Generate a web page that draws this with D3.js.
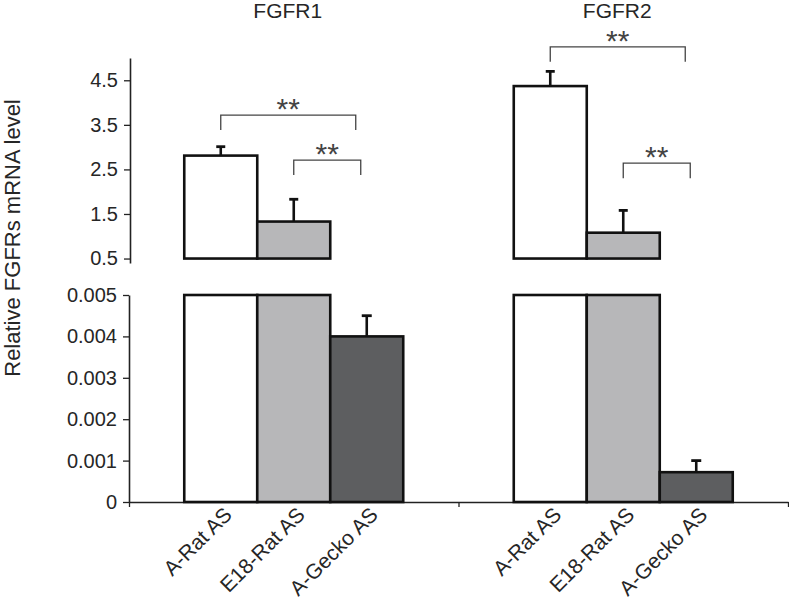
<!DOCTYPE html>
<html>
<head>
<meta charset="utf-8">
<script src="https://cdn.jsdelivr.net/npm/d3@7"></script>
<style>
  html, body { margin: 0; padding: 0; background: #fff; }
  svg { display: block; font-family: "Liberation Sans", Arial, sans-serif; }
</style>
</head>
<body>
<script>
// ---------------- data ----------------
const genes = ["FGFR1", "FGFR2"];
const categories = ["A-Rat AS", "E18-Rat AS", "A-Gecko AS"];
const fgfr1Values = [2.81, 1.33, 0.0040];
const fgfr1Errors = [0.20, 0.50, 0.0005];
const fgfr2Values = [4.37, 1.08, 0.00072];
const fgfr2Errors = [0.33, 0.50, 0.00028];
const upperTicks = [0.5, 1.5, 2.5, 3.5, 4.5];
const lowerTicks = [0, 0.001, 0.002, 0.003, 0.004, 0.005];
// significance brackets: gene, from category, to category, level (upper scale)
const brackets = [
  {gene: "FGFR1", from: "A-Rat AS",   to: "A-Gecko AS", level: 3.72, label: "**"},
  {gene: "FGFR1", from: "E18-Rat AS", to: "A-Gecko AS", level: 2.71, label: "**"},
  {gene: "FGFR2", from: "A-Rat AS",   to: "A-Gecko AS", level: 5.25, label: "**"},
  {gene: "FGFR2", from: "E18-Rat AS", to: "A-Gecko AS", level: 2.64, label: "**"}
];
const colors = ["#ffffff", "#b7b7b9", "#5d5e60"];

const series = {
  FGFR1: categories.map((c, i) => ({gene: "FGFR1", cat: c, i, v: fgfr1Values[i], e: fgfr1Errors[i]})),
  FGFR2: categories.map((c, i) => ({gene: "FGFR2", cat: c, i, v: fgfr2Values[i], e: fgfr2Errors[i]}))
};
const allBars = series.FGFR1.concat(series.FGFR2);

// ---------------- layout ----------------
const W = 789, H = 601;
const svg = d3.select("body").append("svg").attr("width", W).attr("height", H);

const xGroup = d3.scaleBand().domain(genes).range([129, 788]);
const xCat = d3.scaleBand().domain(categories).range([0, xGroup.bandwidth()])
  .paddingInner(0).paddingOuter(0.757);
const cx = d => xGroup(d.gene) + xCat(d.cat) + xCat.bandwidth() / 2;

const yTop = d3.scaleLinear().domain([0.4, 5.0]).range([263, 58]);
const yBot = d3.scaleLinear().domain([0, 0.005]).range([502, 295]);
const upperBase = 0.5;
const lowerMax = 0.005;

const axisColor = "#222";
const textColor = "#262626";

// ---------------- upper panel ----------------
const gTop = svg.append("g");
gTop.append("g").attr("transform", "translate(130,0)")
  .call(d3.axisLeft(yTop).tickValues(upperTicks).tickFormat(d3.format(".1f"))
    .tickSize(6).tickSizeOuter(0).tickPadding(6));

const upperBars = allBars.filter(d => d.v > lowerMax);
gTop.selectAll("rect.ub").data(upperBars).join("rect")
  .attr("class", "ub")
  .attr("x", d => xGroup(d.gene) + xCat(d.cat))
  .attr("width", xCat.bandwidth())
  .attr("y", d => yTop(d.v))
  .attr("height", d => yTop(upperBase) - yTop(d.v))
  .attr("fill", d => colors[d.i])
  .attr("stroke", "#111").attr("stroke-width", 2.6);

const ueb = gTop.selectAll("g.ueb").data(upperBars).join("g").attr("class", "ueb");
ueb.append("line")
  .attr("x1", cx).attr("x2", cx)
  .attr("y1", d => yTop(d.v)).attr("y2", d => yTop(d.v + d.e))
  .attr("stroke", "#111").attr("stroke-width", 2.6);
ueb.append("line")
  .attr("x1", d => cx(d) - 4.5).attr("x2", d => cx(d) + 4.5)
  .attr("y1", d => yTop(d.v + d.e)).attr("y2", d => yTop(d.v + d.e))
  .attr("stroke", "#111").attr("stroke-width", 2.8);

// brackets
const bx = (gene, cat) => xGroup(gene) + xCat(cat) + xCat.bandwidth() / 2;
brackets.forEach(b => {
  const x1 = bx(b.gene, b.from);
  const longB = b.from === categories[0];
  const x2 = bx(b.gene, b.to) - (longB ? 11 : 6);
  const y = yTop(b.level);
  gTop.append("path")
    .attr("d", `M${x1},${y + 15}V${y}H${x2}V${y + 15}`)
    .attr("fill", "none").attr("stroke", "#444").attr("stroke-width", 1.3);
  gTop.append("text")
    .attr("x", (x1 + x2) / 2).attr("y", y + 4)
    .attr("text-anchor", "middle")
    .attr("font-size", 30).attr("fill", "#444")
    .text(b.label);
});

// titles
genes.forEach(g => {
  svg.append("text")
    .attr("x", xGroup(g) + xGroup.bandwidth() / 2 - 6).attr("y", 18)
    .attr("text-anchor", "middle").attr("font-size", 21).attr("fill", textColor)
    .text(g);
});

// ---------------- lower panel ----------------
const gBot = svg.append("g");
gBot.append("g").attr("transform", "translate(129,0)")
  .call(d3.axisLeft(yBot).tickValues(lowerTicks)
    .tickFormat(d => d === 0 ? "0" : d3.format(".3f")(d))
    .tickSize(6).tickSizeOuter(0).tickPadding(6));

const xEdges = d3.scalePoint().domain(["a", "b", "c"]).range([129, 788]);
gBot.append("g").attr("transform", "translate(0,502)")
  .call(d3.axisBottom(xEdges).tickFormat("").tickSize(5).tickSizeOuter(0));

gBot.selectAll("rect.lb").data(allBars).join("rect")
  .attr("class", "lb")
  .attr("x", d => xGroup(d.gene) + xCat(d.cat))
  .attr("width", xCat.bandwidth())
  .attr("y", d => yBot(Math.min(d.v, lowerMax)))
  .attr("height", d => yBot(0) - yBot(Math.min(d.v, lowerMax)))
  .attr("fill", d => colors[d.i])
  .attr("stroke", "#111").attr("stroke-width", 2.6);

const lowerErr = allBars.filter(d => d.v <= lowerMax);
const leb = gBot.selectAll("g.leb").data(lowerErr).join("g").attr("class", "leb");
leb.append("line")
  .attr("x1", cx).attr("x2", cx)
  .attr("y1", d => yBot(d.v)).attr("y2", d => yBot(d.v + d.e))
  .attr("stroke", "#111").attr("stroke-width", 2.6);
leb.append("line")
  .attr("x1", d => cx(d) - 5).attr("x2", d => cx(d) + 5)
  .attr("y1", d => yBot(d.v + d.e)).attr("y2", d => yBot(d.v + d.e))
  .attr("stroke", "#111").attr("stroke-width", 2.8);

// category labels
gBot.selectAll("text.cat").data(allBars).join("text")
  .attr("class", "cat")
  .attr("transform", d => `translate(${cx(d) + 12.5},${516}) rotate(-45)`)
  .attr("text-anchor", "end")
  .attr("font-size", 21).attr("fill", textColor)
  .text(d => d.cat);

// axis styling
svg.selectAll(".domain").attr("stroke", axisColor).attr("stroke-width", 1.6);
svg.selectAll(".tick line").attr("stroke", axisColor).attr("stroke-width", 1.3);
svg.selectAll(".tick text").attr("font-size", 20).attr("fill", textColor)
  .attr("font-family", "Liberation Sans, Arial, sans-serif");

// y-axis title
svg.append("text")
  .attr("transform", "translate(20,238) rotate(-90)")
  .attr("text-anchor", "middle").attr("font-size", 22).attr("fill", textColor)
  .text("Relative FGFRs mRNA level");
</script>
</body>
</html>
